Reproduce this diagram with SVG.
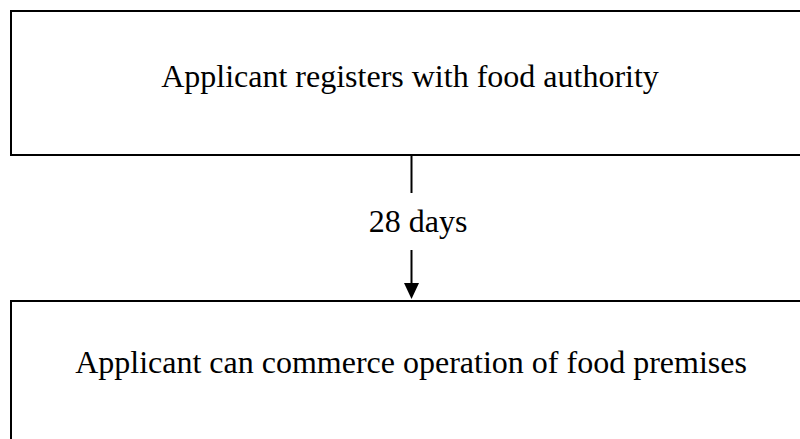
<svg xmlns="http://www.w3.org/2000/svg" width="800" height="439" viewBox="0 0 800 439">
  <style>
    .box { fill: #ffffff; stroke: #000000; stroke-width: 2; }
    .label { font-family: "Liberation Serif", "Times New Roman", serif; font-size: 32px; fill: #000000; text-anchor: middle; }
    .edge { stroke: #000000; stroke-width: 2; fill: none; }
  </style>
  <defs>
    <marker id="arrowhead" markerWidth="8" markerHeight="8" refX="8" refY="4" orient="auto" markerUnits="userSpaceOnUse" viewBox="0 0 8 8">
      <path d="M0,0 L8,4 L0,8 Z" fill="#000000"/>
    </marker>
  </defs>
  <rect width="800" height="439" fill="#ffffff"/>

  <g id="node-register">
    <rect class="box" x="11" y="11" width="800" height="144"/>
    <text class="label" x="410" y="87">Applicant registers with food authority</text>
  </g>

  <g id="node-commence">
    <rect class="box" x="11" y="301" width="800" height="160"/>
    <text class="label" x="411" y="373">Applicant can commerce operation of food premises</text>
  </g>

  <g id="connectors">
    <line class="edge" x1="411.5" y1="155" x2="411.5" y2="193"/>
    <line class="edge" x1="411.5" y1="250" x2="411.5" y2="284"/>
    <polygon points="404,283 419,283 411.5,299" fill="#000000"/>
    <text class="label" x="418" y="232">28 days</text>
  </g>
</svg>
